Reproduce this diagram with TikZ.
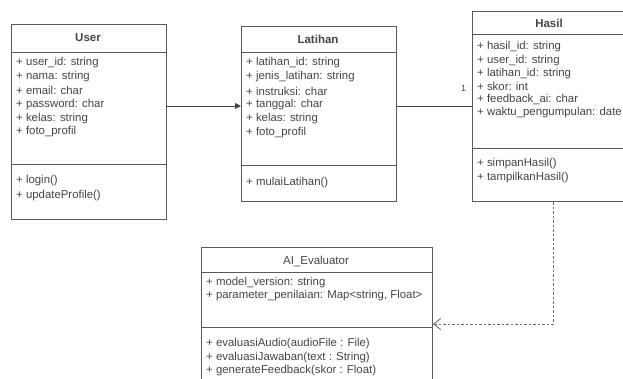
\documentclass[tikz,border=0pt]{standalone}
\usepackage{fontspec}
\setmainfont{Liberation Sans}
\usepackage{xcolor}
\usepackage{tikz}
\usetikzlibrary{calc,arrows.meta}
\definecolor{edge}{HTML}{5A5A5A}
\definecolor{ink}{HTML}{454545}
\definecolor{link}{HTML}{6A6A6A}
\tikzset{
  cls/.style={draw=edge, line width=1pt, fill=white, inner sep=0pt, anchor=north west},
  sep/.style={draw=edge, line width=1pt},
  head/.style={text=ink, font=\fontsize{11.5}{13}\selectfont\bfseries},
  headn/.style={text=ink, font=\fontsize{11.5}{13}\selectfont},
  attr/.style={text=ink, font=\fontsize{11.4}{13}\selectfont, anchor=west, inner sep=0pt},
  assoc/.style={draw=ink, line width=0.9pt},
  dep/.style={draw=link, line width=0.9pt, dash pattern=on 2.5pt off 2pt},
}
\begin{document}
\begin{tikzpicture}[x=1pt,y=-1pt]
  \useasboundingbox (0,0) rectangle (623,378);
  \clip (0,0) rectangle (623,378);
  \fill[white] (0,0) rectangle (623,378);

  % class boxes
  \node[cls, minimum width=155pt, minimum height=195pt] (user) at (11,24) {};
  \node[cls, minimum width=155pt, minimum height=175pt] (latihan) at (241,26) {};
  \node[cls, minimum width=170pt, minimum height=190pt] (hasil) at (472,11) {};
  \node[cls, minimum width=231pt, minimum height=160pt] (ai) at (201,247) {};

  % header and method separators
  \foreach \X/\h/\s in {user/28/140, latihan/26/139, hasil/23/137, ai/25/80}{
    \draw[sep] ($(\X.north west)+(0,\h)$) -- ($(\X.north east)+(0,\h)$);
    \draw[sep] ($(\X.north west)+(0,\s)$) -- ($(\X.north east)+(0,\s)$);
  }

  % names
  \node[head] (userT) at (88,38) {User};
  \node[head] (latihanT) at (318,39) {Latihan};
  \node[head] (hasilT) at (549,23) {Hasil};
  \node[headn] (aiT) at (316,261) {AI\_Evaluator};

  % User
  \foreach \t [count=\i] in {+ user\_id: string, + nama: string, + email: char,
      + password: char, + kelas: string, + foto\_profil}
    \node[attr] at (16,63+13.8*\i-13.8) {\t};
  \foreach \t [count=\i] in {+ login(), + updateProfile()}
    \node[attr] at (16,181+14.5*\i-14.5) {\t};

  % Latihan
  \foreach \t [count=\i] in {+ latihan\_id: string, + jenis\_latihan: string,
      + instruksi: char, + tanggal: char, + kelas: string, + foto\_profil}
    \node[attr] at (246,63+14*\i-14) {\t};
  \node[attr] at (246,183) {+ mulaiLatihan()};

  % Hasil
  \foreach \t [count=\i] in {+ hasil\_id: string, + user\_id: string,
      + latihan\_id: string, + skor: int, + feedback\_ai: char,
      + waktu\_pengumpulan: date}
    \node[attr] at (477,47+13.2*\i-13.2) {\t};
  \foreach \t [count=\i] in {+ simpanHasil(), + tampilkanHasil()}
    \node[attr] at (477,164+13.8*\i-13.8) {\t};

  % AI_Evaluator
  \foreach \t [count=\i] in {+ model\_version: string,
      {+ parameter\_penilaian: Map<string, Float>}}
    \node[attr] at (206,283+13*\i-13) {\t};
  \foreach \t [count=\i] in {{+ evaluasiAudio(audioFile : File)},
      {+ evaluasiJawaban(text : String)}, {+ generateFeedback(skor : Float)}}
    \node[attr] at (206,344+13.2*\i-13.2) {\t};

  % connectors
  \coordinate (row) at (0,106);
  \coordinate (bend) at (553,324);
  \draw[assoc, -{Triangle[length=6pt,width=6pt]}] (user.east |- row) -- (latihan.west |- row);
  \draw[assoc] (latihan.east |- row) -- (hasil.west |- row);
  \node[attr, font=\fontsize{9}{10}\selectfont] (one) at (461,88) {1};
  \draw[dep, -{Straight Barb[length=7pt,width=11pt]}] (hasil.south -| bend) -- (bend) -- (ai.east |- bend);
\end{tikzpicture}
\end{document}
